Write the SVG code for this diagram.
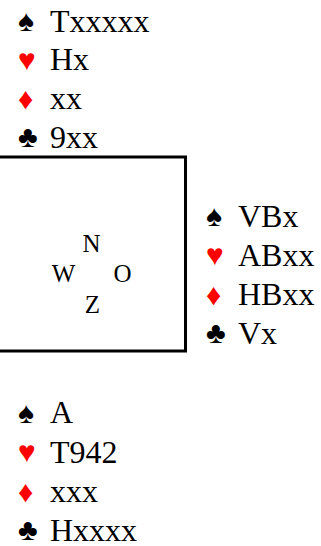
<svg xmlns="http://www.w3.org/2000/svg" width="321" height="546" viewBox="0 0 321 546" font-family="'Liberation Serif', 'Times New Roman', serif">
<style>
text{font-family:"Liberation Serif","Times New Roman",serif;fill:#000}
.t{font-size:32px}
.s{font-size:30px}
.r{fill:#ff0000}
.c{font-size:25px}
</style>
<rect width="321" height="546" fill="#fff"/>
<g id="north">
<text class="s" x="18" y="30.5">♠</text><text class="t" x="50" y="31.5">Txxxxx</text>
<text class="s r" x="18" y="69.5">♥</text><text class="t" x="50" y="70">Hx</text>
<text class="s r" x="18" y="109">♦</text><text class="t" x="50" y="109">xx</text>
<text class="s" x="18" y="147">♣</text><text class="t" x="50" y="147.5">9xx</text>
</g>
<g id="table">
<rect x="-5" y="157" width="190.5" height="194" fill="none" stroke="#000" stroke-width="3"/>
<text class="c" x="91.5" y="252" text-anchor="middle">N</text>
<text class="c" x="63.5" y="282" text-anchor="middle">W</text>
<text class="c" x="122.5" y="282" text-anchor="middle">O</text>
<text class="c" x="92.5" y="313" text-anchor="middle">Z</text>
</g>
<g id="east">
<text class="s" x="206" y="226">♠</text><text class="t" x="238" y="226.5">VBx</text>
<text class="s r" x="206" y="265">♥</text><text class="t" x="238" y="265.5">ABxx</text>
<text class="s r" x="206" y="304.5">♦</text><text class="t" x="238" y="304.5">HBxx</text>
<text class="s" x="206" y="343">♣</text><text class="t" x="238" y="343.5">Vx</text>
</g>
<g id="south">
<text class="s" x="18" y="422.5">♠</text><text class="t" x="50" y="423">A</text>
<text class="s r" x="18" y="462">♥</text><text class="t" x="50" y="462.5">T942</text>
<text class="s r" x="18" y="501.5">♦</text><text class="t" x="50" y="501.5">xxx</text>
<text class="s" x="18" y="540">♣</text><text class="t" x="50" y="540.5">Hxxxx</text>
</g>
<g id="connectors"></g>
</svg>
